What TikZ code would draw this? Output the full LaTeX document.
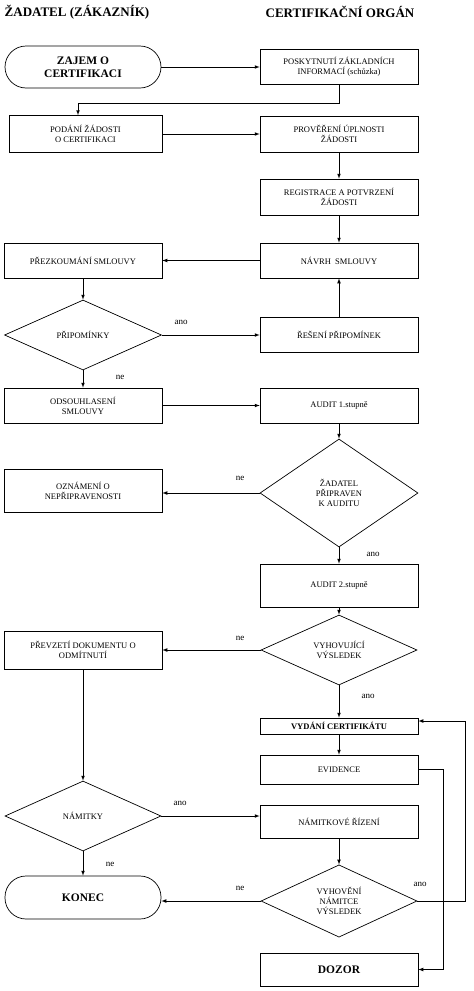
\documentclass[tikz,border=0pt]{standalone}
\usepackage{fontspec}
\setmainfont{Liberation Serif}
\usetikzlibrary{arrows,shapes}
\tikzset{
    box/.style={draw, rectangle, minimum width=158pt, minimum height=35pt, inner sep=1pt,
        align=center, font=\fontsize{8.5}{10}\selectfont},
    terminal/.style={draw, rectangle, rounded corners=21pt, minimum width=156pt, minimum height=42pt,
        align=center, font=\bfseries\fontsize{11.5}{13}\selectfont},
    decision/.style={draw, diamond, minimum width=157pt, minimum height=70pt, inner sep=0pt,
        align=center, font=\fontsize{8.5}{10}\selectfont},
    flow/.style={draw=black, ->, >=latex},
    answer/.style={font=\fontsize{9}{10}\selectfont},
    header/.style={font=\bfseries\fontsize{13}{15}\selectfont}
}
\begin{document}
\begin{tikzpicture}[x=1pt,y=-1pt,line width=0.7pt]
	\useasboundingbox (0,0) rectangle (474,991);
	\node[header] (hzad) at (77,12) {ŽADATEL (ZÁKAZNÍK)};
	\node[header] (hcert) at (340,12) {CERTIFIKAČNÍ ORGÁN};
	% zadatel
	\node[terminal] (zajem) at (83,67) {ZAJEM O\\CERTIFIKACI};
	\node[box, minimum width=153pt, minimum height=37pt] (podani) at (85.5,134) {PODÁNÍ ŽÁDOSTI\\O CERTIFIKACI};
	\node[box] (prezk) at (83,260.5) {PŘEZKOUMÁNÍ SMLOUVY};
	\node[decision] (pripom) at (83,335) {PŘIPOMÍNKY};
	\node[box] (odsouh) at (83,405.5) {ODSOUHLASENÍ\\SMLOUVY};
	\node[box, minimum height=43pt] (oznam) at (83,490.5) {OZNÁMENÍ O\\NEPŘIPRAVENOSTI};
	\node[box, minimum height=38pt] (prevzeti) at (83,650) {PŘEVZETÍ DOKUMENTU O\\ODMÍTNUTÍ};
	\node[decision, minimum width=156pt] (namitky) at (83,816) {NÁMITKY};
	\node[terminal, minimum height=43pt] (konec) at (83,897.5) {KONEC};
	% certifikacni organ
	\node[box] (poskyt) at (339,67) {POSKYTNUTÍ ZÁKLADNÍCH\\INFORMACÍ (schůzka)};
	\node[box, minimum height=36pt] (prover) at (339,134) {PROVĚŘENÍ ÚPLNOSTI\\ŽÁDOSTI};
	\node[box, minimum height=36pt] (regis) at (339,197) {REGISTRACE A POTVRZENÍ\\ŽÁDOSTI};
	\node[box] (navrh) at (339,260.5) {NÁVRH\ \ SMLOUVY};
	\node[box] (reseni) at (339,334.5) {ŘEŠENÍ PŘIPOMÍNEK};
	\node[box] (audit1) at (339,405.5) {AUDIT 1.stupně};
	\node[decision, minimum width=158pt, minimum height=108pt] (pripraven) at (339,493) {ŽADATEL\\PŘIPRAVEN\\K AUDITU};
	\node[box, minimum height=43pt] (audit2) at (339,585.5) {AUDIT 2.stupně};
	\node[decision, minimum width=156pt] (vyhov) at (339,650) {VYHOVUJÍCÍ\\VÝSLEDEK};
	\node[box, minimum height=16pt, font=\bfseries\fontsize{8.5}{10}\selectfont] (vydani) at (339,726) {VYDÁNÍ CERTIFIKÁTU};
	\node[box, minimum height=29pt] (evid) at (339,769.5) {EVIDENCE};
	\node[box, minimum height=33pt] (namriz) at (339,821.5) {NÁMITKOVÉ ŘÍZENÍ};
	\node[decision, minimum width=156pt] (vyhoveni) at (339,901) {VYHOVĚNÍ\\NÁMITCE\\VÝSLEDEK};
	\node[box, minimum height=33pt, font=\bfseries\fontsize{11.5}{13}\selectfont] (dozor) at (339,969.5) {DOZOR};
	% spojnice
	\draw[flow] (zajem.east) -- (poskyt.west);
	\draw[flow] (poskyt.south) -- ++(0,18) -| ([xshift=-7.5pt]podani.north);
	\draw[flow] (podani.east) -- (prover.west);
	\draw[flow] (prover.south) -- (regis.north);
	\draw[flow] (regis.south) -- (navrh.north);
	\draw[flow] (navrh.west) -- (prezk.east);
	\draw[flow] (prezk.south) -- (pripom.north);
	\draw[flow] (pripom.east) -- (pripom.east -| reseni.west);
	\draw[flow] (reseni.north) -- (navrh.south);
	\draw[flow] (pripom.south) -- (odsouh.north);
	\draw[flow] (odsouh.east) -- (audit1.west);
	\draw[flow] (audit1.south) -- (pripraven.north);
	\draw[flow] (pripraven.west) -- (pripraven.west -| oznam.east);
	\draw[flow] (pripraven.south) -- (audit2.north);
	\draw[flow] (audit2.south) -- (vyhov.north);
	\draw[flow] (vyhov.west) -- (prevzeti.east);
	\draw[flow] (vyhov.south) -- (vydani.north);
	\draw[flow] (vydani.south) -- (evid.north);
	\draw[flow] (prevzeti.south) -- (namitky.north);
	\draw[flow] (namitky.east) -- (namitky.east -| namriz.west);
	\draw[flow] (namitky.south) -- (konec.north);
	\draw[flow] (namriz.south) -- (vyhoveni.north);
	\draw[flow] (vyhoveni.west) -- (vyhoveni.west -| konec.east);
	\draw[flow] (vyhoveni.east) -- ++(48,0) |- ([yshift=5pt]vydani.east);
	\draw[flow] (evid.east) -- ++(25,0) |- (dozor.east);
	% odpovedi
	\node[answer] (a1) at (181,322) {ano};
	\node[answer] (n1) at (120,377) {ne};
	\node[answer] (n2) at (240,478) {ne};
	\node[answer] (a2) at (373,554) {ano};
	\node[answer] (n3) at (240,638) {ne};
	\node[answer] (a3) at (368,696) {ano};
	\node[answer] (a4) at (180,803) {ano};
	\node[answer] (n4) at (110,864) {ne};
	\node[answer] (n5) at (240,888) {ne};
	\node[answer] (a5) at (420,884) {ano};
\end{tikzpicture}
\end{document}
